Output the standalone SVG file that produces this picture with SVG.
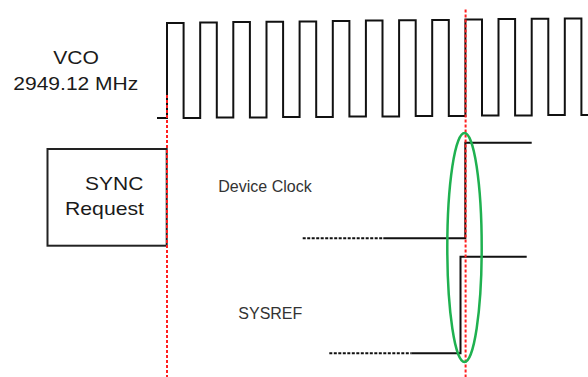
<svg xmlns="http://www.w3.org/2000/svg" width="588" height="377" viewBox="0 0 588 377">
<style>
.wave{fill:none;stroke:#111;stroke-width:2;stroke-linejoin:miter}
.dash{fill:none;stroke:#111;stroke-width:2;stroke-dasharray:3 1.5}
.red{fill:none;stroke:#ff1f1f;stroke-width:2;stroke-dasharray:3 2}
.lbl{font-family:"Liberation Sans",Arial,sans-serif;fill:#1a1a1a}
.sm{font-family:"Liberation Sans",Arial,sans-serif;font-size:16px;fill:#333}
</style>
<rect width="588" height="377" fill="#fff"/>
<g id="vco">
<text class="lbl" x="76" y="64" font-size="19" text-anchor="middle" textLength="45.7" lengthAdjust="spacingAndGlyphs">VCO</text>
<text class="lbl" x="75.8" y="90" font-size="19" text-anchor="middle" textLength="125" lengthAdjust="spacingAndGlyphs">2949.12 MHz</text>
<polyline class="wave" points="157,118 167,118 167,22.9 183.6,22.9 183.6,117.9 200.2,117.9 200.2,22.5 216.8,22.5 216.8,117.6 233.3,117.6 233.3,22.1 249.9,22.1 249.9,117.4 266.5,117.4 266.5,21.7 283.1,21.7 283.1,117.1 299.6,117.1 299.6,21.4 316.2,21.4 316.2,116.9 332.8,116.9 332.8,21 349.4,21 349.4,116.6 365.9,116.6 365.9,20.6 382.5,20.6 382.5,116.4 399.1,116.4 399.1,20.2 415.7,20.2 415.7,116.1 432.2,116.1 432.2,19.9 448.8,19.9 448.8,115.9 465.4,115.9 465.4,19.5 482,19.5 482,115.6 498.5,115.6 498.5,19.1 515.1,19.1 515.1,115.4 531.7,115.4 531.7,18.7 548.3,18.7 548.3,115.1 564.8,115.1 564.8,18.4 581.4,18.4 581.4,114.9 590,114.9"/>
</g>
<g id="sync">
<rect x="47.5" y="149" width="119.2" height="96.7" fill="none" stroke="#222" stroke-width="2"/>
<text class="lbl" x="85" y="190" font-size="19" textLength="58.3" lengthAdjust="spacingAndGlyphs">SYNC</text>
<text class="lbl" x="65" y="215" font-size="19" textLength="79" lengthAdjust="spacingAndGlyphs">Request</text>
</g>
<g id="device-clock">
<text class="sm" x="218.3" y="191.7">Device Clock</text>
<line class="dash" x1="302.7" y1="238.3" x2="383.3" y2="238.3"/>
<polyline class="wave" points="383.3,238.3 465.3,238.3 465.3,142.7 531.7,142.7"/>
</g>
<g id="sysref">
<text class="sm" x="238.3" y="319">SYSREF</text>
<line class="dash" x1="329.3" y1="353.3" x2="411.7" y2="353.3"/>
<polyline class="wave" points="411.7,353.3 460.5,353.3 460.5,256.7 526.7,256.7"/>
</g>
<g id="connectors">
<line class="red" x1="167" y1="95" x2="167" y2="377"/>
<line class="red" x1="465.6" y1="9.5" x2="465.6" y2="377"/>
<ellipse cx="464.5" cy="247.5" rx="17.2" ry="114.5" fill="none" stroke="#1fb150" stroke-width="2.5"/>
</g>
</svg>
